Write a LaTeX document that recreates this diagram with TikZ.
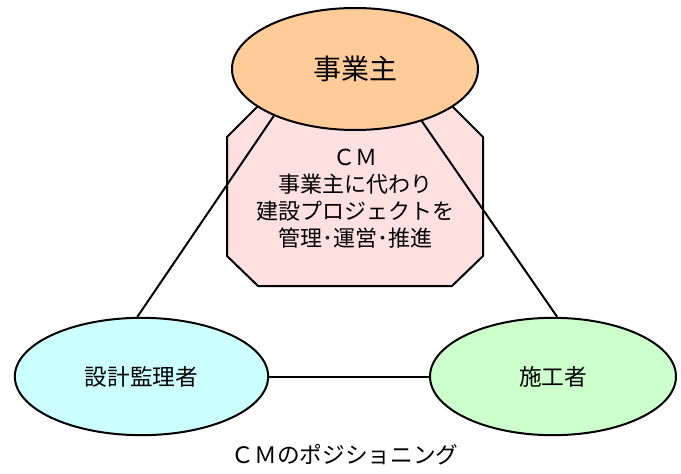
\documentclass[tikz,border=0pt]{standalone}
\usepackage{fontspec}
\setmainfont{Noto Sans CJK JP}
\usetikzlibrary{shapes.geometric,positioning}

\definecolor{ownerfill}{HTML}{FFCC99}
\definecolor{cmfill}{HTML}{FFE0E0}
\definecolor{designfill}{HTML}{CCFFFF}
\definecolor{buildfill}{HTML}{CCFFCC}

\begin{document}
\begin{tikzpicture}[x=0.75pt, y=-0.75pt, line width=1.5pt,
  every node/.style={font=\fontsize{17}{20}\selectfont},
  party/.style={draw, ellipse, inner sep=0pt, minimum height=88pt},
  cmtext/.style={align=center, inner sep=0pt, font=\fontsize{16.5}{20.25}\selectfont}]
  \useasboundingbox (0,0) rectangle (681,474);
  % CM octagon in the middle
  \draw[fill=cmfill] (260,104) -- (450,104) -- (483,137) -- (483,256) -- (452,286)
    -- (258,286) -- (227,256) -- (227,137) -- cycle;
  \node[cmtext] (cm) at (355,199) {ＣＭ\\事業主に代わり\\建設プロジェクトを\\管理･運営･推進};
  % three parties
  \node[party, fill=ownerfill, minimum width=184.5pt, minimum height=91.5pt,
        font=\fontsize{21}{25}\selectfont] (owner) at (355,69) {事業主};
  \node[party, fill=designfill, minimum width=190pt] (design) at (141.5,376.5) {設計監理者};
  \node[party, fill=buildfill, minimum width=184.5pt] (builder) at (553,376.5) {施工者};
  % relations
  \draw (owner.210) -- (design.94);
  \draw (owner.-38) -- (builder.86);
  \draw (design) -- (builder);
  \node (caption) at (345,455) {ＣＭのポジショニング};
\end{tikzpicture}
\end{document}
